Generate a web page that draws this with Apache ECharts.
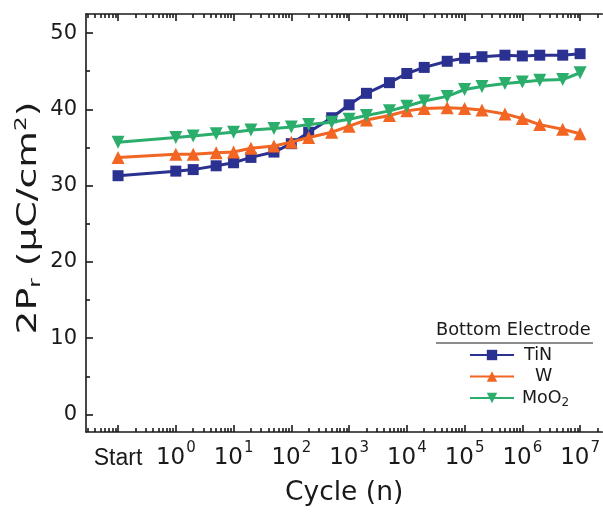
<!DOCTYPE html>
<html>
<head>
<meta charset="utf-8">
<script src="https://cdn.jsdelivr.net/npm/echarts@6/dist/echarts.min.js"></script>
<style>
  html, body { margin: 0; padding: 0; background: #fff; }
  #chart { width: 603px; height: 512px; }
</style>
</head>
<body>
<div id="chart"></div>
<script>
// Remanent polarization (2Pr) versus field cycling, for three bottom electrodes.
const cycles = ['Start', 1, 2, 5, 10, 20, 50, 100, 200, 500, 1e3, 2e3, 5e3,
                1e4, 2e4, 5e4, 1e5, 2e5, 5e5, 1e6, 2e6, 5e6, 1e7];
// 'Start' (pristine state) is plotted one decade before the first cycle.
const startPosition = 0.1;

const tinValues  = [31.3, 31.9, 32.1, 32.6, 33.0, 33.7, 34.4, 35.5, 37.0, 38.9, 40.6, 42.1, 43.5,
                    44.7, 45.5, 46.3, 46.7, 46.9, 47.1, 47.0, 47.1, 47.1, 47.3];
const wValues    = [33.7, 34.1, 34.1, 34.3, 34.4, 34.9, 35.2, 35.7, 36.3, 37.0, 37.8, 38.6, 39.2,
                    39.8, 40.1, 40.2, 40.1, 39.9, 39.4, 38.8, 38.0, 37.4, 36.8];
const moo2Values = [35.7, 36.3, 36.5, 36.8, 37.0, 37.3, 37.5, 37.7, 38.0, 38.3, 38.7, 39.2, 39.8,
                    40.4, 41.1, 41.7, 42.6, 43.0, 43.4, 43.6, 43.8, 43.9, 44.8];

const seriesNames = ['TiN', 'W', 'MoO2'];
const xTickValues = [0.1, 1, 10, 100, 1e3, 1e4, 1e5, 1e6, 1e7];
const xMinorTickValues = [0.03, 0.04, 0.05, 0.06, 0.07, 0.08, 0.09,
  0.2, 0.3, 0.4, 0.5, 0.6, 0.7, 0.8, 0.9,
  2, 3, 4, 5, 6, 7, 8, 9,
  20, 30, 40, 50, 60, 70, 80, 90,
  200, 300, 400, 500, 600, 700, 800, 900,
  2e3, 3e3, 4e3, 5e3, 6e3, 7e3, 8e3, 9e3,
  2e4, 3e4, 4e4, 5e4, 6e4, 7e4, 8e4, 9e4,
  2e5, 3e5, 4e5, 5e5, 6e5, 7e5, 8e5, 9e5,
  2e6, 3e6, 4e6, 5e6, 6e6, 7e6, 8e6, 9e6,
  2e7];
const yTickValues = [0, 10, 20, 30, 40, 50];
const yMinorTickValues = [5, 15, 25, 35, 45];

const colors = ['#2b3190', '#f26522', '#2bae6c'];
const symbols = ['rect', 'triangle', 'path://M0,0 L10,0 L5,8.66 Z'];
const symbolSizes = [11, 13, 13];
const FONT = '"DejaVu Sans", Verdana, sans-serif';
const INK = '#1a1a1a';

function toPairs(values) {
  return cycles.map((c, i) => [c === 'Start' ? startPosition : c, values[i]]);
}

const xRange = [Math.pow(10, -1.555), Math.pow(10, 7.383)];
const yRange = [-2.3, 52.5];

function xLabel(v) {
  if (Math.abs(v - startPosition) < 1e-9) return '{st|Start}';
  return '{b|10}{s|' + Math.round(Math.log10(v)) + '}';
}

const chart = echarts.init(document.getElementById('chart'));
const axisLineStyle = { color: INK, width: 1.6 };

function logAxis(extra) {
  return Object.assign({
    type: 'log', logBase: 10, min: xRange[0], max: xRange[1],
    splitLine: { show: false }, minorTick: { show: false }
  }, extra);
}
function valueAxis(extra) {
  return Object.assign({
    type: 'value', min: yRange[0], max: yRange[1], position: 'left',
    splitLine: { show: false }
  }, extra);
}

chart.setOption({
  animation: false,
  grid: { left: 86, top: 14, right: -3, bottom: 78, containLabel: false },
  xAxis: [
    logAxis({
      position: 'bottom',
      name: 'Cycle (n)', nameLocation: 'middle', nameGap: 48,
      nameTextStyle: { fontFamily: FONT, fontSize: 26.5, color: INK },
      axisLine: { show: true, onZero: false, lineStyle: axisLineStyle },
      axisTick: { show: true, inside: true, length: 7, lineStyle: axisLineStyle, customValues: xTickValues },
      axisLabel: {
        customValues: xTickValues, margin: 3, color: INK,
        formatter: xLabel,
        rich: {
          st: { fontFamily: '"Liberation Sans", Arial, sans-serif', fontSize: 23, color: INK, padding: [12, 0, 0, 0] },
          b: { fontFamily: FONT, fontSize: 23, color: INK, padding: [12, 0, 0, 0] },
          s: { fontFamily: FONT, fontSize: 15, color: INK, padding: [0, 0, 8, 1] }
        }
      }
    }),
    // short decade subdivision ticks on the bottom edge
    logAxis({
      position: 'bottom',
      axisLine: { show: false, onZero: false },
      axisTick: { show: true, inside: true, length: 4, lineStyle: axisLineStyle, customValues: xMinorTickValues },
      axisLabel: { show: false }
    }),
    logAxis({
      position: 'top',
      axisLine: { show: true, onZero: false, lineStyle: axisLineStyle },
      axisTick: { show: true, inside: true, length: 7, lineStyle: axisLineStyle, customValues: xTickValues },
      axisLabel: { show: false }
    }),
    logAxis({
      position: 'top',
      axisLine: { show: false, onZero: false },
      axisTick: { show: true, inside: true, length: 4, lineStyle: axisLineStyle, customValues: xMinorTickValues },
      axisLabel: { show: false }
    })
  ],
  yAxis: [
    valueAxis({
      axisLine: { show: true, onZero: false, lineStyle: axisLineStyle },
      axisTick: { show: true, inside: true, length: 7, lineStyle: axisLineStyle, customValues: yTickValues },
      axisLabel: { customValues: yTickValues, fontFamily: FONT, fontSize: 21, color: INK, margin: 9 }
    }),
    valueAxis({
      axisLine: { show: false, onZero: false },
      axisTick: { show: true, inside: true, length: 4, lineStyle: axisLineStyle, customValues: yMinorTickValues },
      axisLabel: { show: false }
    })
  ],
  legend: {
    orient: 'vertical', left: 464, top: 341,
    itemWidth: 44, itemHeight: 13, itemGap: 3.5,
    data: seriesNames,
    formatter: function (name) {
      if (name === 'TiN') return '{t|TiN}';
      if (name === 'W') return '{w|W}';
      return '{m|MoO}{sub|2}';
    },
    textStyle: {
      fontFamily: FONT, fontSize: 17.5, color: INK,
      rich: {
        t: { fontFamily: FONT, fontSize: 17.5, color: INK, padding: [0, 0, 0, 5] },
        w: { fontFamily: FONT, fontSize: 17.5, color: INK, padding: [0, 0, 0, 16] },
        m: { fontFamily: FONT, fontSize: 17.5, color: INK, padding: [0, 0, 0, 3] },
        sub: { fontFamily: FONT, fontSize: 12, color: INK, padding: [10, 0, 0, 0] }
      }
    }
  },
  graphic: [
    {
      // y-axis title, set upright along the axis
      type: 'text', x: 29, y: 218, rotation: Math.PI / 2, scaleX: 1.45,
      style: {
        text: '2P{sub|r} (μC/cm{sup|2})',
        fontFamily: FONT, fontSize: 26, fill: INK, align: 'center', verticalAlign: 'middle',
        rich: {
          sub: { fontFamily: FONT, fontSize: 16, fill: INK, padding: [14, 0, 0, 0] },
          sup: { fontFamily: FONT, fontSize: 16, fill: INK, padding: [0, 0, 14, 0] }
        }
      }
    },
    {
      type: 'text', left: 436, top: 321,
      style: { text: 'Bottom Electrode', fontFamily: FONT, fontSize: 17.8, fill: INK }
    },
    {
      type: 'line', shape: { x1: 436, y1: 343, x2: 593, y2: 343 },
      style: { stroke: INK, lineWidth: 1 }
    }
  ],
  series: [tinValues, wValues, moo2Values].map((vals, i) => ({
    name: seriesNames[i],
    type: 'line',
    xAxisIndex: 0, yAxisIndex: 0,
    data: toPairs(vals),
    symbol: symbols[i],
    symbolSize: symbolSizes[i],
    showAllSymbol: true,
    color: colors[i],
    lineStyle: { color: colors[i], width: 3 },
    itemStyle: { color: colors[i] },
    z: 3 + i
  }))
});
</script>
</body>
</html>
